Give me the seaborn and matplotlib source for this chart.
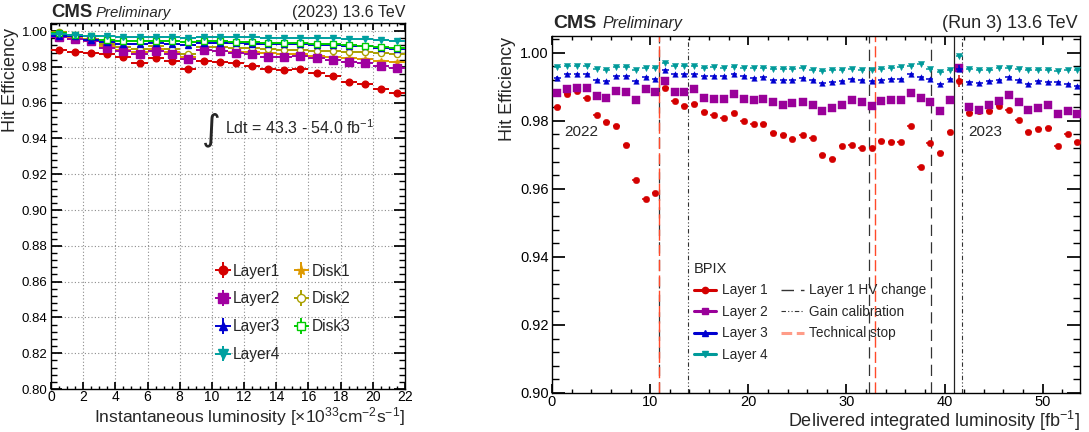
import numpy as np
import pandas as pd
import seaborn as sns
import matplotlib.pyplot as plt
from matplotlib.lines import Line2D
from matplotlib.ticker import MultipleLocator

# ---- left panel: hit efficiency vs instantaneous luminosity (2023)
inst_lumi = [0.5, 1.5, 2.5, 3.5, 4.5, 5.5, 6.5, 7.5, 8.5, 9.5, 10.5,
             11.5, 12.5, 13.5, 14.5, 15.5, 16.5, 17.5, 18.5, 19.5, 20.5, 21.5]
layer1 = [0.9894, 0.9885, 0.9877, 0.9872, 0.9855, 0.9821, 0.9847, 0.9834, 0.9789, 0.9834, 0.9828,
          0.9823, 0.9806, 0.9789, 0.9782, 0.9786, 0.9765, 0.9747, 0.9717, 0.9704, 0.9675, 0.9656]
layer2 = [0.9966, 0.9958, 0.9945, 0.9906, 0.9886, 0.9872, 0.9891, 0.9872, 0.9845, 0.9893, 0.9891,
          0.9880, 0.9874, 0.9857, 0.9853, 0.9858, 0.9849, 0.9840, 0.9826, 0.9819, 0.9806, 0.9792]
layer3 = [0.9975, 0.9970, 0.9951, 0.9938, 0.9930, 0.9928, 0.9932, 0.9928, 0.9920, 0.9932, 0.9932,
          0.9931, 0.9929, 0.9928, 0.9925, 0.9925, 0.9924, 0.9923, 0.9919, 0.9914, 0.9908, 0.9900]
layer4 = [0.9985, 0.9980, 0.9974, 0.9970, 0.9966, 0.9965, 0.9966, 0.9965, 0.9962, 0.9967, 0.9966,
          0.9965, 0.9964, 0.9963, 0.9961, 0.9961, 0.9960, 0.9959, 0.9958, 0.9955, 0.9952, 0.9947]
disk1 = [0.9985, 0.9966, 0.9947, 0.9919, 0.9894, 0.9881, 0.9900, 0.9881, 0.9857, 0.9894, 0.9891,
         0.9885, 0.9882, 0.9876, 0.9872, 0.9870, 0.9862, 0.9857, 0.9851, 0.9843, 0.9835, 0.9828]
disk2 = [0.9994, 0.9970, 0.9957, 0.9928, 0.9909, 0.9900, 0.9919, 0.9900, 0.9872, 0.9913, 0.9909,
         0.9908, 0.9904, 0.9900, 0.9895, 0.9892, 0.9889, 0.9887, 0.9884, 0.9881, 0.9877, 0.9872]
disk3 = [0.9989, 0.9980, 0.9970, 0.9951, 0.9947, 0.9943, 0.9943, 0.9947, 0.9938, 0.9943, 0.9943,
         0.9940, 0.9938, 0.9936, 0.9933, 0.9932, 0.9930, 0.9927, 0.9923, 0.9918, 0.9912, 0.9907]

# ---- right panel: BPIX hit efficiency vs delivered integrated luminosity (Run 3)
int_lumi = [0.55, 1.55, 2.55, 3.55, 4.55, 5.55, 6.55, 7.55, 8.55, 9.55, 10.5, 11.55, 12.5, 13.5,
            14.5, 15.5, 16.5, 17.5, 18.55, 19.55, 20.55, 21.55, 22.55, 23.55, 24.5, 25.55, 26.55,
            27.55, 28.55, 29.55, 30.55, 31.55, 32.6, 33.55, 34.55, 35.55, 36.55, 37.55, 38.5,
            39.55, 40.55, 41.5, 42.5, 43.55, 44.55, 45.55, 46.55, 47.55, 48.55, 49.55, 50.55,
            51.55, 52.55, 53.5]
bpix_l1 = [0.9841, 0.9880, 0.9887, 0.9867, 0.9816, 0.9797, 0.9785, 0.9729, 0.9625, 0.9570, 0.9587,
           0.9897, 0.9859, 0.9844, 0.9849, 0.9827, 0.9818, 0.9807, 0.9823, 0.9799, 0.9789, 0.9789,
           0.9764, 0.9757, 0.9747, 0.9759, 0.9748,
           0.9700, 0.9687, 0.9727, 0.9729, 0.9719, 0.9721, 0.9740, 0.9737, 0.9737, 0.9784, 0.9665,
           0.9734, 0.9706, 0.9767, 0.9917, 0.9824, 0.9828, 0.9828, 0.9843, 0.9831, 0.9802, 0.9768,
           0.9775, 0.9780, 0.9726, 0.9760, 0.9737]
bpix_l2 = [0.9882, 0.9892, 0.9897, 0.9895, 0.9872, 0.9867, 0.9888, 0.9885, 0.9860, 0.9892, 0.9883,
           0.9917, 0.9885, 0.9883, 0.9893, 0.9868, 0.9863, 0.9863, 0.9880, 0.9863, 0.9862, 0.9863,
           0.9854, 0.9846, 0.9851, 0.9856, 0.9846,
           0.9829, 0.9836, 0.9846, 0.9862, 0.9854, 0.9844, 0.9859, 0.9862, 0.9860, 0.9882, 0.9868,
           0.9856, 0.9829, 0.9860, 0.9955, 0.9841, 0.9833, 0.9846, 0.9858, 0.9875, 0.9856, 0.9833,
           0.9836, 0.9846, 0.9820, 0.9828, 0.9820]
bpix_l3 = [0.9927, 0.9936, 0.9936, 0.9936, 0.9919, 0.9916, 0.9931, 0.9931, 0.9916, 0.9929, 0.9924,
           0.9950, 0.9936, 0.9936, 0.9936, 0.9931, 0.9931, 0.9931, 0.9936, 0.9931, 0.9926, 0.9929,
           0.9921, 0.9919, 0.9921, 0.9926, 0.9921,
           0.9912, 0.9914, 0.9916, 0.9924, 0.9919, 0.9917, 0.9921, 0.9924, 0.9922, 0.9936, 0.9929,
           0.9924, 0.9909, 0.9924, 0.9953, 0.9914, 0.9911, 0.9916, 0.9921, 0.9929, 0.9921, 0.9909,
           0.9916, 0.9914, 0.9914, 0.9909, 0.9902]
bpix_l4 = [0.9958, 0.9960, 0.9962, 0.9962, 0.9953, 0.9948, 0.9958, 0.9958, 0.9950, 0.9956, 0.9955,
           0.9970, 0.9960, 0.9962, 0.9960, 0.9956, 0.9958, 0.9956, 0.9958, 0.9956, 0.9956, 0.9956,
           0.9953, 0.9951, 0.9953, 0.9955, 0.9950,
           0.9946, 0.9950, 0.9950, 0.9953, 0.9950, 0.9950, 0.9953, 0.9956, 0.9958, 0.9960, 0.9966,
           0.9953, 0.9943, 0.9950, 0.9989, 0.9953, 0.9948, 0.9950, 0.9956, 0.9956, 0.9953, 0.9948,
           0.9950, 0.9950, 0.9946, 0.9948, 0.9948]
# the first 2023 point has a larger uncertainty
first_2023 = 41
first_2023_err = {'l1': 0.0017, 'l2': 0.0010, 'l3': 0.0010, 'l4': 0.0006}

hv_change = [10.95, 32.3, 38.65]
gain_calib = [13.9, 41.8]
tech_stop = [10.95, 32.9]
year_boundary = 40.95

W, H = 1089, 432


def fx(px):
    return px / W


def fy(py):
    return 1 - py / H


sns.set_theme(style="ticks")
plt.rcParams['font.family'] = ['Liberation Sans', 'DejaVu Sans']
plt.rcParams['mathtext.fontset'] = 'custom'
plt.rcParams['mathtext.rm'] = 'Liberation Sans'
plt.rcParams['mathtext.it'] = 'Liberation Sans:italic'
plt.rcParams['mathtext.bf'] = 'Liberation Sans:bold'
plt.rcParams['axes.edgecolor'] = 'black'
plt.rcParams['axes.linewidth'] = 1.0
plt.rcParams['xtick.color'] = 'black'
plt.rcParams['ytick.color'] = 'black'

fig = plt.figure(figsize=(W / 100, H / 100), dpi=100)
ax1 = fig.add_axes([fx(51), fy(389), fx(405) - fx(51), fy(23) - fy(389)])
ax2 = fig.add_axes([fx(552), fy(393), fx(1080) - fx(552), fy(36) - fy(393)])

# ---------------- left panel
left_series = [
    ('Disk1', disk1, '#dd9900', '*', 5, None),
    ('Disk2', disk2, '#aaa000', 'o', 4.5, 'white'),
    ('Layer1', layer1, '#d40000', 'o', 4.8, None),
    ('Layer2', layer2, '#a000a0', 's', 5.2, None),
    ('Layer3', layer3, '#0000d0', '^', 4.0, None),
    ('Disk3', disk3, '#00cc00', 's', 4.6, 'white'),
    ('Layer4', layer4, '#00a0a0', 'v', 5.0, None),
]
handles = {}
for i, (name, vals, col, mk, ms, mfc) in enumerate(left_series):
    h = ax1.errorbar(inst_lumi, vals, xerr=0.5, yerr=0.0003, fmt=mk, color=col, ms=ms,
                     mfc=mfc if mfc else col, mec=col, mew=1.0, elinewidth=1.4,
                     capsize=0, label=name, zorder=3 + i)
    handles[name] = h

ax1.set_xlim(0, 22)
ax1.set_ylim(0.80, 1.0045)
ax1.xaxis.set_major_locator(MultipleLocator(2))
ax1.xaxis.set_minor_locator(MultipleLocator(0.5))
ax1.yaxis.set_major_locator(MultipleLocator(0.02))
ax1.yaxis.set_minor_locator(MultipleLocator(0.004))
ax1.yaxis.set_major_formatter(plt.FuncFormatter(lambda v, p: f'{v:.2f}'))
ax1.grid(True, which='major', color='#8c8c8c', linestyle=(0, (1, 2)), linewidth=0.8)
ax1.tick_params(which='both', direction='in', top=True, right=True, labelsize=9.5, pad=2.5)
ax1.tick_params(axis='x', pad=1, labelsize=10)
ax1.tick_params(axis='y', which='major', length=8)
ax1.tick_params(axis='y', which='minor', length=4)
ax1.tick_params(axis='x', which='major', length=5)
ax1.tick_params(axis='x', which='minor', length=2.5)

order = ['Layer1', 'Layer2', 'Layer3', 'Layer4', 'Disk1', 'Disk2', 'Disk3']
ax1.legend([handles[n] for n in order], order, ncol=2, loc='upper left',
           bbox_to_anchor=(10.25, 0.8700), bbox_transform=ax1.transData,
           frameon=False, fontsize=11.2, borderpad=0, borderaxespad=0,
           handlelength=0.9, handletextpad=0.2, columnspacing=0.9, labelspacing=0.82,
           markerscale=1.3)

ax1.text(9.95, 0.9447, '\u222b', fontsize=26, ha='center', va='center', family='DejaVu Sans')
ax1.text(10.8, 0.9458, 'Ldt = 43.3 - 54.0 fb$^{-1}$', fontsize=11.5, ha='left', va='center')

# ---------------- right panel
err = 0.0003
right_series = [
    ('Layer 1', 'l1', bpix_l1, '#d40000', 'o', 22),
    ('Layer 2', 'l2', bpix_l2, '#990099', 's', 26),
    ('Layer 3', 'l3', bpix_l3, '#0000d0', '^', 16),
    ('Layer 4', 'l4', bpix_l4, '#009a9a', 'v', 20),
]
for i, (name, key, vals, col, mk, s) in enumerate(right_series):
    yerr = [first_2023_err[key] if j == first_2023 else err for j in range(len(vals))]
    ax2.errorbar(int_lumi, vals, xerr=0.35, yerr=yerr, fmt='none', ecolor=col,
                 elinewidth=1.1, capsize=0, zorder=3 + i)
    df = pd.DataFrame({'lumi': int_lumi, 'eff': vals})
    sns.scatterplot(data=df, x='lumi', y='eff', marker=mk, color=col, s=s,
                    edgecolor=col, linewidth=0.3, ax=ax2, zorder=4 + i, legend=False)

hv_style = dict(color='#333333', linestyle=(0, (9, 5)), linewidth=0.9)
gain_style = dict(color='#333333', linestyle=(0, (4, 2, 1, 2, 1, 2)), linewidth=0.8)
tech_style = dict(color='#ff4a2a', linestyle=(0, (8, 3)), linewidth=1.0)
for x in hv_change:
    ax2.axvline(x, zorder=2, **hv_style)
for x in gain_calib:
    ax2.axvline(x, zorder=2, **gain_style)
for x in tech_stop:
    ax2.axvline(x, zorder=2, **tech_style)
ax2.axvline(year_boundary, color='#222222', linewidth=0.9, zorder=2)

ax2.set_xlim(0, 53.8)
ax2.set_ylim(0.90, 1.0049)
ax2.set_xlabel('')
ax2.set_ylabel('')
ax2.xaxis.set_major_locator(MultipleLocator(10))
ax2.xaxis.set_minor_locator(MultipleLocator(2))
ax2.yaxis.set_major_locator(MultipleLocator(0.02))
ax2.yaxis.set_minor_locator(MultipleLocator(0.004))
ax2.yaxis.set_major_formatter(plt.FuncFormatter(lambda v, p: f'{v:.2f}'))
ax2.tick_params(which='both', direction='in', top=True, right=True, labelsize=10.5, pad=2.5)
ax2.tick_params(axis='x', pad=1.5)
ax2.tick_params(axis='y', which='major', length=9.5)
ax2.tick_params(axis='y', which='minor', length=4.7)
ax2.tick_params(axis='x', which='major', length=6.5)
ax2.tick_params(axis='x', which='minor', length=3.2)

ax2.text(1.27, 0.9767, '2022', fontsize=11, ha='left', va='center')
ax2.text(42.45, 0.9767, '2023', fontsize=11, ha='left', va='center')

leg_handles = [Line2D([0], [0], color=c, lw=2.2, marker=m, ms=4.5) for _, _, _, c, m, _ in right_series]
leg_labels = [n for n, _, _, _, _, _ in right_series]
leg_handles += [Line2D([0], [0], color='#333333', lw=1.0, linestyle=(0, (9, 5))),
                Line2D([0], [0], color='#333333', lw=0.8, linestyle=(0, (4, 2, 1, 2, 1, 2))),
                Line2D([0], [0], color='#ff9c88', lw=2.2, linestyle=(0, (3.5, 1.5)))]
leg_labels += ['Layer 1 HV change', 'Gain calibration', 'Technical stop']
ax2.legend(leg_handles, leg_labels, ncol=2, loc='upper left', title='BPIX',
           title_fontsize=10.5, alignment='left',
           bbox_to_anchor=(14.45, 0.9385), bbox_transform=ax2.transData,
           frameon=False, fontsize=9.8, borderpad=0, borderaxespad=0,
           handlelength=1.65, handletextpad=0.4, columnspacing=1.0, labelspacing=0.55)

# ---------------- titles and axis labels
fig.text(fx(51), fy(17), 'CMS', fontsize=13.3, fontweight='bold', ha='left', va='baseline')
fig.text(fx(95.5), fy(17), 'Preliminary', fontsize=10.8, style='italic', ha='left', va='baseline')
fig.text(fx(405), fy(17), '(2023) 13.6 TeV', fontsize=11.5, ha='right', va='baseline')
fig.text(fx(553), fy(28), 'CMS', fontsize=14, fontweight='bold', ha='left', va='baseline')
fig.text(fx(602.5), fy(28), 'Preliminary', fontsize=11.5, style='italic', ha='left', va='baseline')
fig.text(fx(1078), fy(28), '(Run 3) 13.6 TeV', fontsize=13, ha='right', va='baseline')

fig.text(fx(10.5), fy(28), 'Hit Efficiency', fontsize=13, rotation=90, ha='center', va='top')
fig.text(fx(508), fy(37), 'Hit Efficiency', fontsize=13, rotation=90, ha='center', va='top')
fig.text(fx(405), fy(422), 'Instantaneous luminosity [\u00d710$^{33}$cm$^{-2}$s$^{-1}$]',
         fontsize=12.5, ha='right', va='baseline')
fig.text(fx(1080), fy(427), 'Delivered integrated luminosity [fb$^{-1}$]',
         fontsize=13, ha='right', va='baseline')

fig.savefig('out.png', dpi=100)
